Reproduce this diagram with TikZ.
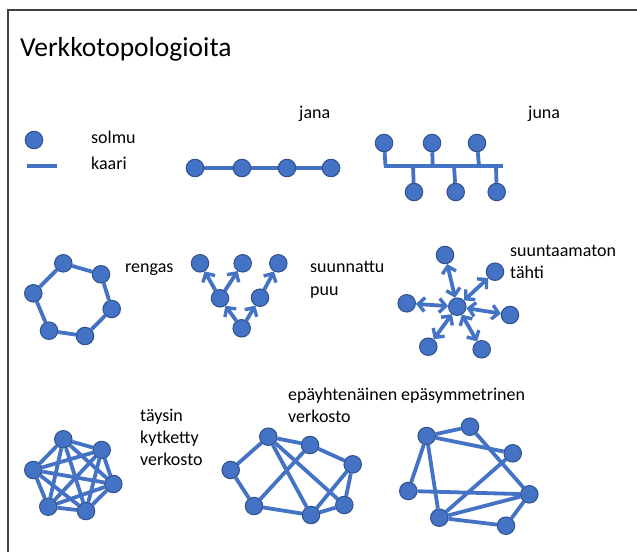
\documentclass[tikz,border=0pt]{standalone}
\usepackage{fontspec}
\setmainfont{Carlito}
\usetikzlibrary{arrows.meta}
\definecolor{nodeblue}{HTML}{4472C4}
\definecolor{nodeedge}{HTML}{2F528F}
\definecolor{frame}{HTML}{404040}
\pgfdeclarelayer{bg}
\pgfsetlayers{bg,main}
\tikzset{
  vx/.style={circle, fill=nodeblue, draw=nodeedge, line width=1pt, minimum size=17.5pt, inner sep=0pt},
  edge/.style={draw=nodeblue, line width=3.8pt},
  tipb/.tip={Straight Barb[length=6.5pt,width=14pt,line width=3.4pt]},
  dir/.style={edge, -tipb},
  bidir/.style={edge, tipb-tipb},
  lbl/.style={anchor=base west, font=\fontsize{18pt}{22pt}\selectfont, inner sep=0pt, text=black},
}
\begin{document}
\begin{tikzpicture}[x=1pt,y=-1pt]
\useasboundingbox (0,0) rectangle (637,552);
% frame
\coordinate (f1) at (637,10);
\coordinate (f2) at (8,10);
\coordinate (f3) at (8,552);
\draw[frame, line width=1.6pt] (f1) -- (f2) -- (f3);
% title
\node[lbl, font=\fontsize{27.5pt}{32pt}\selectfont] (title) at (20,56) {Verkkotopologioita};

% legend
\node[vx] (leg) at (34,140) {};
\coordinate (l1) at (27,166);
\coordinate (l2) at (57,166);
\draw[edge] (l1) -- (l2);
\node[lbl] (solmu) at (91,143) {solmu};
\node[lbl] (kaari) at (91,169) {kaari};

% jana
\node[lbl] (jana) at (299,118) {jana};
\node[vx] (j1) at (195,168) {};
\node[vx] (j2) at (242,168) {};
\node[vx] (j3) at (287,168) {};
\node[vx] (j4) at (331,168) {};
\begin{pgfonlayer}{bg}
\draw[edge] (j1) -- (j2) -- (j3) -- (j4);
\end{pgfonlayer}

% juna
\node[lbl] (juna) at (528,118) {juna};
\coordinate (b0) at (384,166);
\coordinate (bE) at (503,166);
\coordinate (bt1) at (385.5,166);
\coordinate (bt2) at (432.7,166);
\coordinate (bt3) at (479,166);
\coordinate (bb1) at (413,166);
\coordinate (bb2) at (454,166);
\coordinate (bb3) at (496,166);
\node[vx] (t1) at (384,143) {};
\node[vx] (t2) at (432,143) {};
\node[vx] (t3) at (477,143) {};
\node[vx] (u1) at (414,192) {};
\node[vx] (u2) at (455.7,192) {};
\node[vx] (u3) at (496.7,192) {};
\begin{pgfonlayer}{bg}
\draw[edge] (b0) -- (bE);
\draw[edge] (t1) -- (bt1);
\draw[edge] (t2) -- (bt2);
\draw[edge] (t3) -- (bt3);
\draw[edge] (u1) -- (bb1);
\draw[edge] (u2) -- (bb2);
\draw[edge] (u3) -- (bb3);
\end{pgfonlayer}

% rengas
\node[lbl] (rengas) at (125,272) {rengas};
\node[vx] (r1) at (63.3,263.3) {};
\node[vx] (r2) at (101,274.3) {};
\node[vx] (r3) at (111.7,309) {};
\node[vx] (r4) at (85,336) {};
\node[vx] (r5) at (49,330.7) {};
\node[vx] (r6) at (33.3,293.3) {};
\begin{pgfonlayer}{bg}
\draw[edge] (r1) -- (r2) -- (r3) -- (r4) -- (r5) -- (r6) -- (r1);
\end{pgfonlayer}

% suunnattu puu
\node[lbl] (sp1) at (310,272) {suunnattu};
\node[lbl] (sp2) at (310,295) {puu};
\node[vx] (p1) at (200,263.3) {};
\node[vx] (p2) at (242.7,263.3) {};
\node[vx] (p3) at (278.3,263.3) {};
\node[vx] (m1) at (220,298.3) {};
\node[vx] (m2) at (260,297.7) {};
\node[vx] (rt) at (241.7,328.3) {};
\begin{pgfonlayer}{bg}
\draw[dir] (rt) -- (m1);
\draw[dir] (rt) -- (m2);
\draw[dir] (m1) -- (p1);
\draw[dir] (m1) -- (p2);
\draw[dir] (m2) -- (p3);
\end{pgfonlayer}

% suuntaamaton tahti
\node[lbl] (st1) at (510,256) {suuntaamaton};
\node[lbl] (st2) at (510,278) {tähti};
\node[vx] (sc) at (457.3,306.7) {};
\node[vx] (s1) at (445,255) {};
\node[vx] (s2) at (495,271.7) {};
\node[vx] (s3) at (510,315) {};
\node[vx] (s4) at (481.7,349.3) {};
\node[vx] (s5) at (428.3,346.7) {};
\node[vx] (s6) at (406.7,303.3) {};
\begin{pgfonlayer}{bg}
\foreach \s in {s1,s2,s3,s4,s5,s6} \draw[bidir] (sc) -- (\s);
\end{pgfonlayer}

% taysin kytketty verkosto
\node[lbl] (tk1) at (140,421) {täysin};
\node[lbl] (tk2) at (140,443) {kytketty};
\node[lbl] (tk3) at (140,465) {verkosto};
\node[vx] (k1) at (63.3,439.3) {};
\node[vx] (k2) at (101.7,450) {};
\node[vx] (k3) at (113.3,484) {};
\node[vx] (k4) at (86,511) {};
\node[vx] (k5) at (48.3,506.7) {};
\node[vx] (k6) at (33.3,470) {};
\begin{pgfonlayer}{bg}
\foreach \a/\b in {k1/k2,k1/k3,k1/k4,k1/k5,k1/k6,k2/k3,k2/k4,k2/k5,k2/k6,k3/k4,k3/k5,k3/k6,k4/k5,k4/k6,k5/k6}
  \draw[edge] (\a) -- (\b);
\end{pgfonlayer}

% epayhtenainen verkosto
\node[lbl] (ep1) at (288,400) {epäyhtenäinen};
\node[lbl] (ep2) at (288,422) {verkosto};
\node[vx] (a) at (268.3,436.7) {};
\node[vx] (b) at (310,445) {};
\node[vx] (c) at (352.7,464.3) {};
\node[vx] (d) at (230.7,470) {};
\node[vx] (e) at (254,506) {};
\node[vx] (f) at (311,515) {};
\node[vx] (g) at (344.3,505) {};
\begin{pgfonlayer}{bg}
\foreach \x/\y in {a/b,a/d,a/f,a/g,b/c,b/e,d/e,e/f,f/g,f/c,g/c}
  \draw[edge] (\x) -- (\y);
\end{pgfonlayer}

% epasymmetrinen
\node[lbl] (es) at (401,400) {epäsymmetrinen};
\node[vx] (P) at (426.7,436) {};
\node[vx] (Q) at (470,426.7) {};
\node[vx] (R) at (512.7,453.3) {};
\node[vx] (S) at (408.3,491) {};
\node[vx] (T) at (529.3,494.3) {};
\node[vx] (U) at (439.3,517.7) {};
\node[vx] (V) at (506,525.7) {};
\begin{pgfonlayer}{bg}
\foreach \x/\y in {P/Q,P/R,P/S,P/U,Q/T,R/U,S/T,U/T,U/V,V/T}
  \draw[edge] (\x) -- (\y);
\end{pgfonlayer}
\end{tikzpicture}
\end{document}
